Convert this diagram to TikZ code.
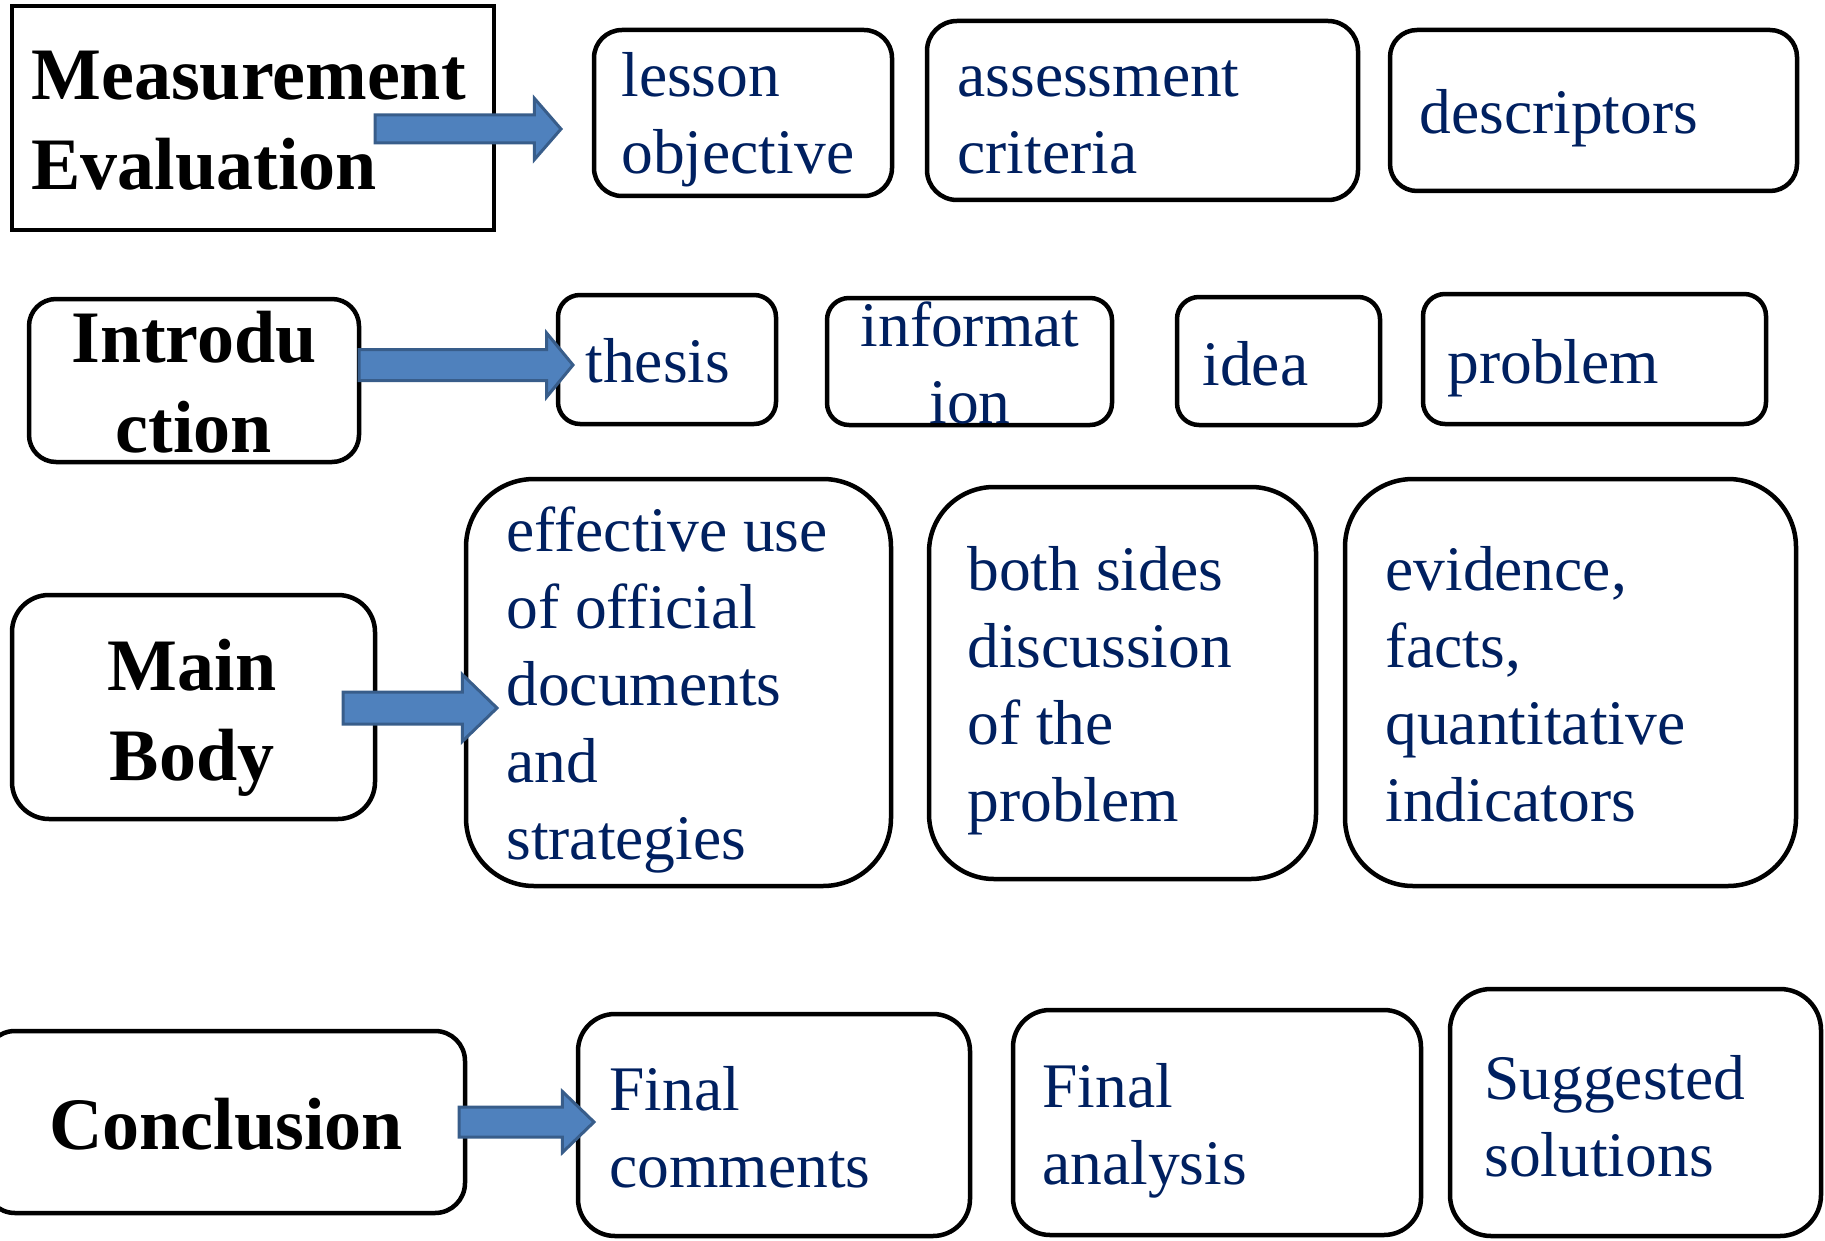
\documentclass[tikz,border=0pt]{standalone}
\usepackage{fontspec}
\setmainfont{Liberation Serif}
\usetikzlibrary{fit,shapes.arrows}
\definecolor{navy}{HTML}{002060}
\definecolor{afill}{HTML}{4F81BD}
\definecolor{aline}{HTML}{385D8A}
\begin{document}
\begin{tikzpicture}[x=0.5pt,y=-0.5pt,
  box/.style={draw=black, line width=2.25pt, inner sep=0pt, outer sep=0pt},
  rbox/.style={box, rounded corners=#1},
  body/.style={anchor=base west, inner sep=0pt, align=left, text=navy, font=\fontsize{31.75}{38.5}\selectfont},
  head/.style={inner sep=0pt, text=black, font=\fontsize{37}{45}\selectfont\bfseries},
  barrow/.style={shape=single arrow, draw=aline, fill=afill, line width=1.5pt, inner xsep=0pt, minimum width=0pt, outer sep=0pt, anchor=tail},
]
\useasboundingbox (0,0) rectangle (1825,1241);
% (multi-line texts are placed by the baseline of their last line)

% row 1
\node[box, fit={(12,6) (494,230)}] (me) {};
\node[rbox=14pt, fit={(594,30) (892,196)}] (lo) {};
\node[rbox=15pt, fit={(927,21) (1358,200)}] (ac) {};
\node[rbox=13.5pt, fit={(1390,30) (1797,191)}] (de) {};
\node[head, anchor=base west, align=left] (me-t) at (31,190) {Measurement\\Evaluation};
\node[body] (lo-t) at (621,174) {lesson\\objective};
\node[body] (ac-t) at (957,174) {assessment\\criteria};
\node[body] (de-t) at (1419,134) {descriptors};

% row 2
\node[rbox=13.5pt, fit={(29,299) (359,462)}] (in) {};
\node[rbox=11pt, fit={(558,295) (776,424)}] (th) {};
\node[rbox=11pt, fit={(827,298) (1112,425)}] (if) {};
\node[rbox=11pt, fit={(1177,297) (1380,425)}] (id) {};
\node[rbox=11pt, fit={(1423,294) (1766,424)}] (pr) {};
\node[head, anchor=base, align=center] (in-t) at (194,452) {Introdu\\ction};
\node[body] (th-t) at (585,382) {thesis};
\node[body, anchor=base, align=center] (if-t) at (970,423) {informat\\ion};
\node[body] (id-t) at (1202,385) {idea};
\node[body] (pr-t) at (1447,383) {problem};

% row 3
\node[rbox=18.5pt, fit={(12,595) (375,819)}] (mb) {};
\node[rbox=34pt, fit={(466,479) (891,886)}] (ef) {};
\node[rbox=32.5pt, fit={(929,487) (1316,879)}] (bs) {};
\node[rbox=34pt, fit={(1345,479) (1796,886)}] (ev) {};
\node[head, anchor=base, align=center] (mb-t) at (192,780) {Main\\Body};
\node[body] (ef-t) at (506,859) {effective use\\of official\\documents\\and\\strategies};
\node[body] (bs-t) at (967,821) {both sides\\discussion\\of the\\problem};
\node[body] (ev-t) at (1385,821) {evidence,\\facts,\\quantitative\\indicators};

% row 4
\node[rbox=15pt, fit={(-15,1031) (465,1213)}] (co) {};
\node[rbox=18.5pt, fit={(578,1014) (970,1236)}] (fc) {};
\node[rbox=18.5pt, fit={(1013,1010) (1421,1235)}] (fa) {};
\node[rbox=20.5pt, fit={(1450,989) (1821,1236)}] (ss) {};
\node[head, anchor=base west] (co-t) at (49,1149) {Conclusion};
\node[body] (fc-t) at (609,1187) {Final\\comments};
\node[body] (fa-t) at (1042,1184) {Final\\analysis};
\node[body] (ss-t) at (1484,1176) {Suggested\\solutions};

% block arrows
\node[barrow, inner ysep=6.25pt, single arrow head extend=8.25pt, single arrow tip angle=98, minimum height=93pt] (a1) at (375,129) {};
\node[barrow, inner ysep=7pt, single arrow head extend=8.25pt, single arrow tip angle=101, minimum height=107pt] (a2) at (359,365) {};
\node[barrow, inner ysep=7.25pt, single arrow head extend=8.75pt, single arrow tip angle=88, minimum height=77pt] (a3) at (343,708) {};
\node[barrow, inner ysep=6.75pt, single arrow head extend=7.75pt, single arrow tip angle=88, minimum height=67.5pt] (a4) at (459,1122) {};
\end{tikzpicture}
\end{document}
